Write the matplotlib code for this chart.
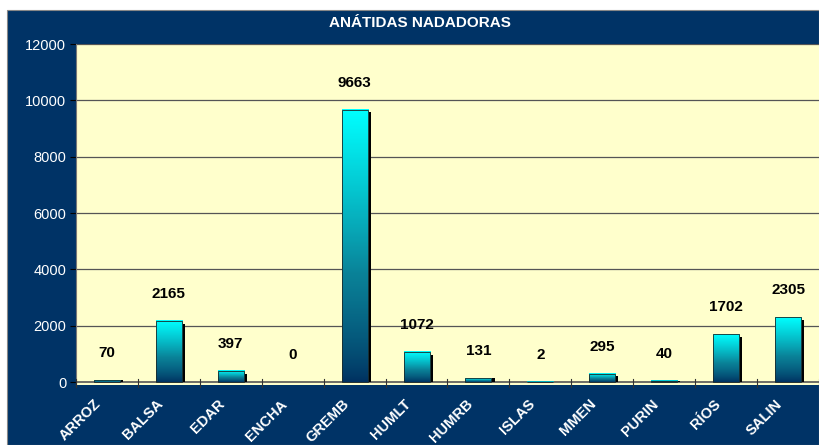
import numpy as np
import matplotlib
matplotlib.use("Agg")
import matplotlib.pyplot as plt
import matplotlib.transforms as mtransforms
from matplotlib.colors import LinearSegmentedColormap
from matplotlib.patches import Rectangle

categories = ["ARROZ", "BALSA", "EDAR", "ENCHA", "GREMB", "HUMLT", "HUMRB",
              "ISLAS", "MMEN", "PURIN", "RÍOS", "SALIN"]
values = [70, 2165, 397, 0, 9663, 1072, 131, 2, 295, 40, 1702, 2305]
yticks = [0, 2000, 4000, 6000, 8000, 10000, 12000]
title = "ANÁTIDAS NADADORAS"

W, H = 819, 445
fig = plt.figure(figsize=(W / 100, H / 100), dpi=100)
fig.patch.set_facecolor("white")
navy = "#003366"
fig.patches.append(Rectangle((7 / W, 0), 1 - 7 / W, 1 - 10 / H, transform=fig.transFigure,
                             facecolor=navy, edgecolor="#888888", lw=0.8, zorder=-5))

left, right, top, bottom = 76, 819, 44, 385
ax = fig.add_axes([left / W, 1 - bottom / H, (right - left) / W, (bottom - top) / H])
ax.set_zorder(2)
ax.set_facecolor("#FFFFCC")

cmap = LinearSegmentedColormap.from_list("g", ["#002F5F", "#0A8298", "#00FFFF"])
grad = (np.linspace(0, 1, 256) ** 0.75).reshape(-1, 1)
bw = 0.42
sx = 0.05
for i, v in enumerate(values):
    if v > 0:
        ax.add_patch(Rectangle((i - bw / 2 + sx, 0), bw, max(v - 90, 0) if v > 200 else v,
                               facecolor="black", edgecolor="none", zorder=3))
        g = grad if v > 1500 else np.full((2, 1), 0.9 if v < 200 else 0.0) if False else grad
        ax.imshow(g, cmap=cmap, aspect="auto", origin="lower", vmin=0, vmax=1,
                  extent=(i - bw / 2, i + bw / 2, 0, v), zorder=4, interpolation="bilinear")
        ax.add_patch(Rectangle((i - bw / 2, 0), bw, v, facecolor="none", edgecolor="#1a2a2a",
                               lw=0.6, zorder=5))
    ax.annotate(str(v), (i, v), xytext=(0, 27), textcoords="offset pixels",
                ha="center", va="center", fontsize=11, fontweight="bold",
                family="Liberation Sans", color="black", zorder=6)

ax.set_yticks(yticks)
ax.set_yticklabels([str(t) for t in yticks], color="white", fontsize=10.5, family="Liberation Sans")
ax.set_xticks(np.arange(len(categories)))
ax.set_xticklabels(categories, rotation=45, ha="right", rotation_mode="anchor",
                   color="white", fontsize=10.5, fontweight="bold", family="Liberation Sans")
ax.tick_params(axis="x", length=0, pad=10)
ax.tick_params(axis="y", length=4, color="black", pad=3)
shift = mtransforms.ScaledTranslation(-13 / 100, 2 / 100, fig.dpi_scale_trans)
for lab in ax.get_xticklabels():
    lab.set_transform(lab.get_transform() + shift)
for b in np.arange(-0.5, len(categories) - 0.4, 1):
    ax.plot([b, b], [100, -180], color="#333333", lw=0.8, clip_on=False, zorder=5)
ax.set_xlim(-0.5, len(categories) - 0.5)
ax.set_ylim(-100, 12000)
for s in ["top", "right", "bottom"]:
    ax.spines[s].set_visible(False)
ax.spines["left"].set_color("#777777")
ax.axhline(0, color="#555555", lw=1.2, zorder=2)
for t in yticks[1:]:
    ax.axhline(t, color="#555555", lw=0.9, zorder=1)

fig.text(420 / W, 1 - 23 / H, title, color="white", fontsize=11, fontweight="bold",
         ha="center", va="center", family="Liberation Sans")

fig.savefig("out.png", dpi=100, facecolor=fig.get_facecolor())
